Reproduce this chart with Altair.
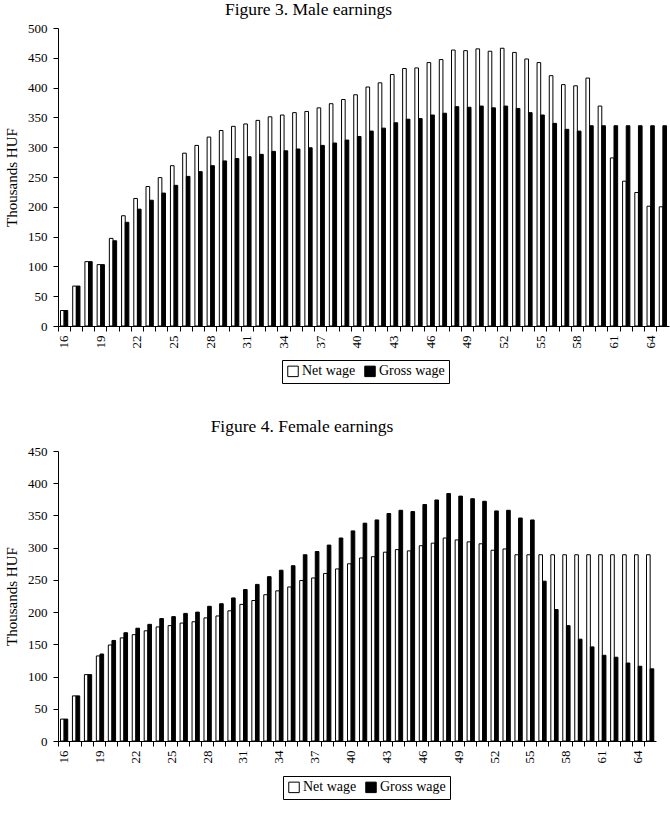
import altair as alt
import pandas as pd

ages = list(range(16, 66))
series = ["Net wage", "Gross wage"]

male_net = [26, 67, 108, 103, 147, 185, 214, 234, 249, 269, 290, 303, 317, 328, 335,
            339, 345, 351, 354, 358, 360, 366, 373, 380, 388,
            401, 408, 422, 432, 433, 442, 447, 463, 462, 465, 461, 466, 459, 448, 442,
            420, 405, 403, 416, 369, 282, 243, 224, 201, 200]
male_gross = [26, 67, 108, 103, 143, 174, 196, 211, 223, 236, 251, 259, 269, 277, 281,
              284, 288, 293, 294, 297, 299, 303, 307, 312, 318,
              327, 332, 341, 347, 348, 354, 357, 368, 367, 369, 366, 369, 365, 358, 354,
              340, 330, 327, 336, 336, 336, 336, 336, 336, 336]
female_net = [34, 70, 103, 132, 149, 160, 165, 171, 177, 179, 183, 185, 191, 194, 202,
              212, 218, 227, 233, 239, 249, 253, 260, 267, 275,
              284, 286, 293, 297, 295, 303, 307, 315, 312, 309, 306, 296, 298, 289, 289,
              289, 289, 289, 289, 289, 289, 289, 289, 289, 289]
female_gross = [34, 70, 103, 135, 156, 168, 175, 181, 190, 193, 198, 200, 209, 213, 222,
                235, 243, 255, 265, 272, 289, 294, 304, 315, 326,
                338, 343, 353, 358, 356, 367, 374, 384, 380, 376, 372, 357, 358, 346, 343,
                248, 204, 179, 158, 146, 133, 130, 121, 116, 112]

FONT = "Liberation Serif"


def make_df(net, gross):
    rows = []
    for a, n, g in zip(ages, net, gross):
        rows.append({"age": a, "series": "Net wage", "value": n})
        rows.append({"age": a, "series": "Gross wage", "value": g})
    return pd.DataFrame(rows)


def panel(df, title, ymax, width, height, lx, ly, toff):
    return alt.Chart(
        df,
        title=alt.TitleParams(title, font=FONT, fontSize=17.5, fontWeight="normal",
                              color="black", anchor="middle", dx=-55, offset=toff),
    ).mark_bar(stroke="black", strokeWidth=1).encode(
        x=alt.X("age:O", title=None,
                scale=alt.Scale(paddingInner=0, paddingOuter=0),
                axis=alt.Axis(labelAngle=270, bandPosition=0, tickSize=5,
                              labelPadding=4,
                              labelExpr="(datum.value - 16) % 3 == 0 ? datum.label : ''")),
        xOffset=alt.XOffset("series:N", sort=series,
                            scale=alt.Scale(paddingOuter=0.68, paddingInner=0)),
        y=alt.Y("value:Q", title="Thousands HUF",
                scale=alt.Scale(domain=[0, ymax], nice=False),
                axis=alt.Axis(values=list(range(0, ymax + 1, 50)), tickSize=5,
                              labelPadding=6, titlePadding=8)),
        fill=alt.Fill("series:N", sort=series,
                      scale=alt.Scale(domain=series, range=["white", "black"]),
                      legend=alt.Legend(title=None, orient="none", legendX=lx, legendY=ly,
                                        direction="horizontal", strokeColor="black",
                                        padding=4, symbolType="square", symbolSize=110,
                                        symbolStrokeColor="black", symbolStrokeWidth=1,
                                        labelFont=FONT, labelFontSize=14, labelOffset=2,
                                        columnPadding=6, labelColor="black")),
    ).properties(width=width, height=height)


top = panel(make_df(male_net, male_gross), "Figure 3. Male earnings",
            500, 611, 298, 224, 332, 4)
bottom = panel(make_df(female_net, female_gross), "Figure 4. Female earnings",
               450, 598, 290, 225, 325, 10)

chart = alt.vconcat(top, bottom, spacing=33).resolve_scale(
    fill="independent"
).resolve_legend(fill="independent").properties(
    padding={"left": 4, "top": 0, "right": 0, "bottom": 5}
).configure_view(stroke=None).configure_axis(
    domainColor="black", tickColor="black", labelColor="black", titleColor="black",
    labelFont=FONT, labelFontSize=13, titleFont=FONT, titleFontSize=15,
    titleFontWeight="normal", grid=False
)

chart.save("out.html", embed_options={"renderer": "svg", "actions": False})
